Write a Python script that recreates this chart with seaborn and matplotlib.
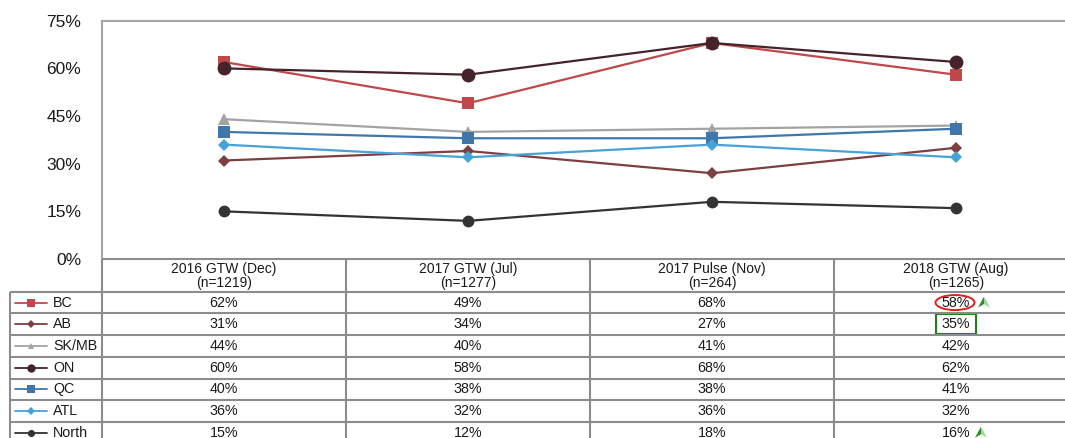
import numpy as np
import pandas as pd
import seaborn as sns
import matplotlib.pyplot as plt
from matplotlib.patches import Ellipse, Rectangle, Polygon

waves = ["2016 GTW (Dec)", "2017 GTW (Jul)", "2017 Pulse (Nov)", "2018 GTW (Aug)"]
sample_sizes = ["(n=1219)", "(n=1277)", "(n=264)", "(n=1265)"]
regions = ["BC", "AB", "SK/MB", "ON", "QC", "ATL", "North"]

bc = [62, 49, 68, 58]
ab = [31, 34, 27, 35]
sk_mb = [44, 40, 41, 42]
on = [60, 58, 68, 62]
qc = [40, 38, 38, 41]
atl = [36, 32, 36, 32]
north = [15, 12, 18, 16]

y_ticks = [0, 15, 30, 45, 60, 75]

colors = {"BC": "#C0484A", "AB": "#7E3F40", "SK/MB": "#A3A3A3", "ON": "#44232A",
          "QC": "#3F77AD", "ATL": "#45A3D8", "North": "#333333"}
markers = {"BC": "s", "AB": "D", "SK/MB": "^", "ON": "o", "QC": "s", "ATL": "D", "North": "o"}
msizes = {"BC": 9, "AB": 6.5, "SK/MB": 8, "ON": 10, "QC": 9, "ATL": 6.5, "North": 8.5}

series = dict(zip(regions, [bc, ab, sk_mb, on, qc, atl, north]))
df = pd.DataFrame([{"region": r, "pos": i, "pct": v}
                   for r in regions for i, v in enumerate(series[r])])

sns.set_theme(style="white")
plt.rcParams["font.family"] = ["Liberation Sans", "DejaVu Sans"]

W, H = 1065, 438
x0, col_w = 102, 244
y_top, y_zero = 20.7, 259
row_h = 21.7
head_bot = 291.7
grid_c = "#8C8C8C"
txt_c = "#1A1A1A"

fig = plt.figure(figsize=(W / 100, H / 100), dpi=100)
ax = fig.add_axes([x0 / W, 1 - y_zero / H, 4 * col_w / W, (y_zero - y_top) / H])

for r in regions:
    sns.lineplot(data=df[df.region == r], x="pos", y="pct", color=colors[r],
                 marker=markers[r], markersize=msizes[r], markeredgewidth=0,
                 linewidth=1.6, ax=ax, legend=False)

ax.set_xlim(-0.5, 3.5)
ax.set_ylim(0, 75)
ax.set_xticks([])
ax.set_yticks(y_ticks)
ax.set_yticklabels([f"{t}%" for t in y_ticks], fontsize=12.5, color=txt_c)
ax.tick_params(axis="y", length=0, pad=15)
ax.set_xlabel("")
ax.set_ylabel("")
for side in ["left", "top"]:
    ax.spines[side].set_color("#A6A6A6")
    ax.spines[side].set_linewidth(1.5)
ax.spines["right"].set_visible(False)
ax.spines["bottom"].set_visible(False)

# data table under the chart
tax = fig.add_axes([0, 0, 1, 1])
tax.set_xlim(0, W)
tax.set_ylim(H, 0)
tax.axis("off")

tax.hlines(y_zero, x0, W, color=grid_c, lw=1.5)
for k in range(len(regions) + 1):
    tax.hlines(head_bot + k * row_h, 9.5, W, color=grid_c, lw=1.5)
tax.vlines(9.5, head_bot, H, color=grid_c, lw=1.5)
for i in range(4):
    tax.vlines(x0 + i * col_w, y_zero, H, color=grid_c, lw=1.5)

for i, (w, n) in enumerate(zip(waves, sample_sizes)):
    cx = x0 + (i + 0.5) * col_w
    tax.text(cx, (y_zero + head_bot) / 2 + 1, f"{w}\n{n}", ha="center", va="center",
             fontsize=10, linespacing=1.0, color=txt_c)

for k, r in enumerate(regions):
    cy = head_bot + (k + 0.5) * row_h
    tax.plot([15, 47], [cy, cy], color=colors[r], lw=1.3)
    tax.plot([31], [cy], marker=markers[r], color=colors[r], markersize=msizes[r] * 0.6,
             markeredgewidth=0)
    tax.text(53, cy, r, ha="left", va="center", fontsize=10.3, color=txt_c)
    for i, v in enumerate(series[r]):
        tax.text(x0 + (i + 0.5) * col_w, cy, f"{v}%", ha="center", va="center",
                 fontsize=10.3, color=txt_c)

# highlights in the last column
last_cx = x0 + 3.5 * col_w
bc_cy = head_bot + 0.5 * row_h
ab_cy = head_bot + 1.5 * row_h
north_cy = head_bot + 6.5 * row_h
tax.add_patch(Ellipse((last_cx - 1, bc_cy), 39, 15, fill=False, ec="#E02020", lw=1.4))
tax.add_patch(Rectangle((last_cx - 20, ab_cy - 10), 40, 20, fill=False, ec="#1E7F1E", lw=1.5))


def up_arrow(cx, cy):
    tip, notch = (cx, cy - 6), (cx, cy + 1.5)
    tax.add_patch(Polygon([tip, notch, (cx - 6, cy + 5)], closed=True, fc="#2E8B2E", ec="none"))
    tax.add_patch(Polygon([tip, (cx + 6, cy + 5), notch], closed=True, fc="#9AD89A", ec="none"))


up_arrow(last_cx + 28, bc_cy)
up_arrow(last_cx + 25, north_cy)

fig.savefig("out.png", dpi=100)
